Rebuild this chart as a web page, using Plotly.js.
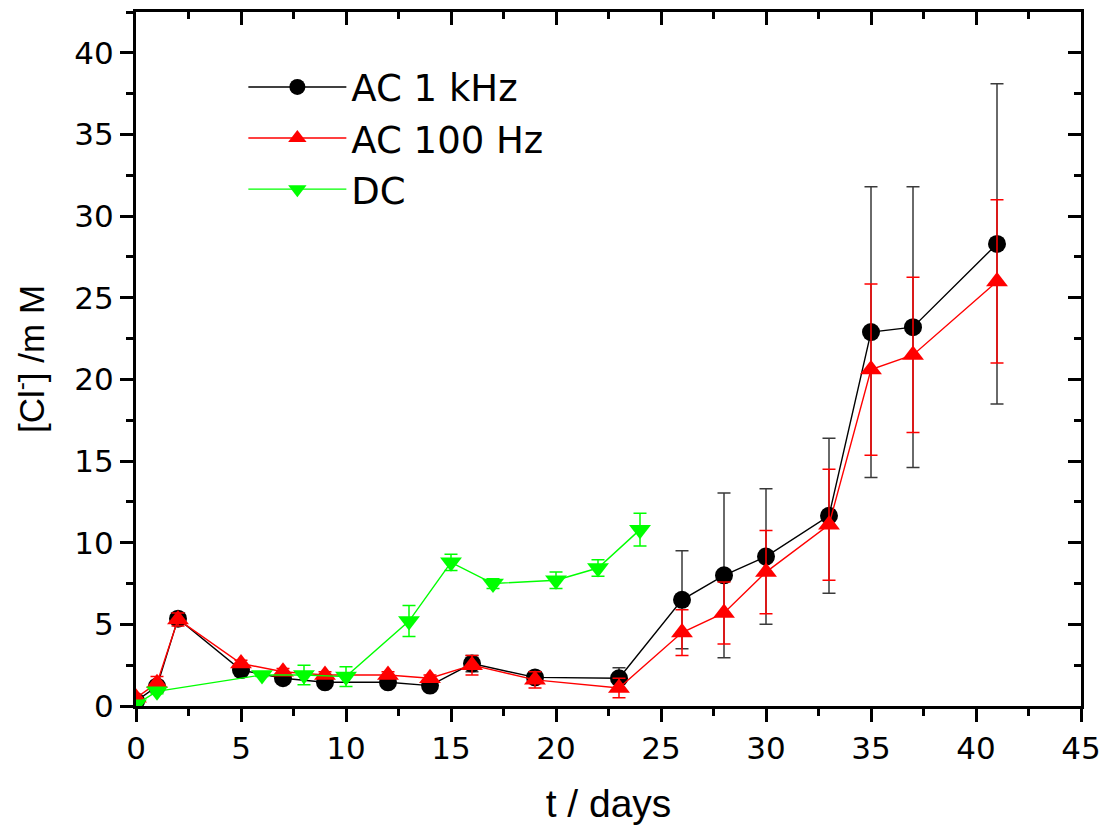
<!DOCTYPE html>
<html>
<head>
<meta charset="utf-8">
<script src="https://cdn.plot.ly/plotly-3.0.1.min.js"></script>
<style>
  html, body { margin: 0; padding: 0; background: #fff; }
  #chart { width: 1110px; height: 835px; }
</style>
</head>
<body>
<div id="chart"></div>
<script>
// Chloride concentration over time for three polarisation modes
const daysAC = [0, 1, 2, 5, 7, 9, 12, 14, 16, 19, 23, 26, 28, 30, 33, 35, 37, 41];
const ac1kHz = [0.3, 1.2, 5.35, 2.2, 1.7, 1.45, 1.45, 1.25, 2.6, 1.75, 1.7, 6.5, 8.0, 9.15, 11.65, 22.9, 23.2, 28.3];
const ac1kHzErr = [0, 0.2, 0.3, 0.2, 0.2, 0.2, 0.2, 0.2, 0.5, 0.3, 0.65, 3.0, 5.05, 4.15, 4.75, 8.9, 8.6, 9.8];

const ac100Hz = [0.5, 1.4, 5.3, 2.6, 2.1, 1.9, 1.9, 1.7, 2.5, 1.6, 1.1, 4.5, 5.7, 8.2, 11.1, 20.6, 21.5, 26.0];
const ac100HzErr = [0, 0.4, 0.4, 0.2, 0.2, 0.2, 0.2, 0.2, 0.6, 0.5, 0.6, 1.4, 1.9, 2.55, 3.4, 5.25, 4.75, 5.0];

const daysDC = [0, 1, 6, 8, 10, 13, 15, 17, 20, 22, 24];
const dcVals = [0.1, 0.9, 1.9, 1.9, 1.8, 5.2, 8.8, 7.5, 7.7, 8.45, 10.8];
const dcErr = [0, 0.15, 0.1, 0.6, 0.6, 0.95, 0.5, 0.3, 0.5, 0.5, 1.0];

const seriesNames = ['AC 1 kHz', 'AC 100 Hz', 'DC'];
const xTitle = 't / days';
const yTitle = '[Cl<sup>-</sup>] /m M';

const FONT = 'Liberation Sans, Arial, sans-serif';
const WIDE_FONT = 'DejaVu Sans, Liberation Sans, sans-serif';
const X_RANGE = [0, 45];
const Y_RANGE = [0, 42.5];

function errBar(arr, color) {
  return { type: 'data', array: arr, visible: true, color: color, thickness: 1.5, width: 6.5 };
}

const traces = [
  {
    x: daysAC, y: ac1kHz, name: seriesNames[0], mode: 'lines+markers',
    line: { color: '#000000', width: 1.4 },
    marker: { symbol: 'circle', size: 18, color: '#000000' },
    error_y: errBar(ac1kHzErr, '#3a3a3a')
  },
  {
    x: daysAC, y: ac100Hz, name: seriesNames[1], mode: 'lines+markers',
    line: { color: '#ff0000', width: 1.4 },
    marker: { symbol: 'triangle-up', size: 19, color: '#ff0000' },
    error_y: errBar(ac100HzErr, '#ff0000')
  },
  {
    x: daysDC, y: dcVals, name: seriesNames[2], mode: 'lines+markers',
    line: { color: '#00ff00', width: 1.4 },
    marker: { symbol: 'triangle-down', size: 19, color: '#00ff00' },
    error_y: errBar(dcErr, '#00ff00')
  },
  // empty traces that bind the mirrored frame axes (top and right)
  { x: [], y: [], xaxis: 'x2', yaxis: 'y', showlegend: false, hoverinfo: 'skip', mode: 'markers' },
  { x: [], y: [], xaxis: 'x', yaxis: 'y2', showlegend: false, hoverinfo: 'skip', mode: 'markers' }
];

const tickFont = { family: WIDE_FONT, size: 31, color: '#000' };

const frameAxis = {
  showline: true, linewidth: 3, linecolor: '#000',
  tickwidth: 3, tickcolor: '#000', ticklen: 13,
  showgrid: false, zeroline: false, dtick: 5, tick0: 0
};

const layout = {
  width: 1110, height: 835,
  margin: { l: 135.5, r: 28.5, t: 12, b: 129 },
  paper_bgcolor: '#fff', plot_bgcolor: '#fff',
  showlegend: true,
  legend: {
    x: 0.1136, y: 0.936, xanchor: 'left', yanchor: 'top',
    font: { family: WIDE_FONT, size: 37, color: '#000' },
    bgcolor: 'rgba(0,0,0,0)', itemwidth: 98, tracegroupgap: 0
  },
  xaxis: Object.assign({}, frameAxis, {
    range: X_RANGE, ticks: 'outside',
    minor: { ticks: 'outside', dtick: 2.5, ticklen: 7, tickwidth: 3, tickcolor: '#000' },
    tickfont: tickFont,
    title: { text: xTitle, font: { family: FONT, size: 39, color: '#000' }, standoff: 25 }
  }),
  yaxis: Object.assign({}, frameAxis, {
    range: Y_RANGE, ticks: 'outside',
    minor: { ticks: 'outside', dtick: 2.5, ticklen: 7, tickwidth: 3, tickcolor: '#000' },
    tickfont: tickFont,
    title: { text: yTitle, font: { family: FONT, size: 35, color: '#000' }, standoff: 20 }
  }),
  xaxis2: Object.assign({}, frameAxis, {
    overlaying: 'x', side: 'top', anchor: 'y', range: X_RANGE,
    ticks: 'inside',
    minor: { ticks: 'inside', dtick: 2.5, ticklen: 7, tickwidth: 3, tickcolor: '#000' },
    showticklabels: false
  }),
  yaxis2: Object.assign({}, frameAxis, {
    overlaying: 'y', side: 'right', anchor: 'x', range: Y_RANGE,
    ticks: 'inside',
    minor: { ticks: 'inside', dtick: 2.5, ticklen: 7, tickwidth: 3, tickcolor: '#000' },
    showticklabels: false
  })
};

Plotly.newPlot('chart', traces, layout, { displayModeBar: false, staticPlot: true });
</script>
</body>
</html>
